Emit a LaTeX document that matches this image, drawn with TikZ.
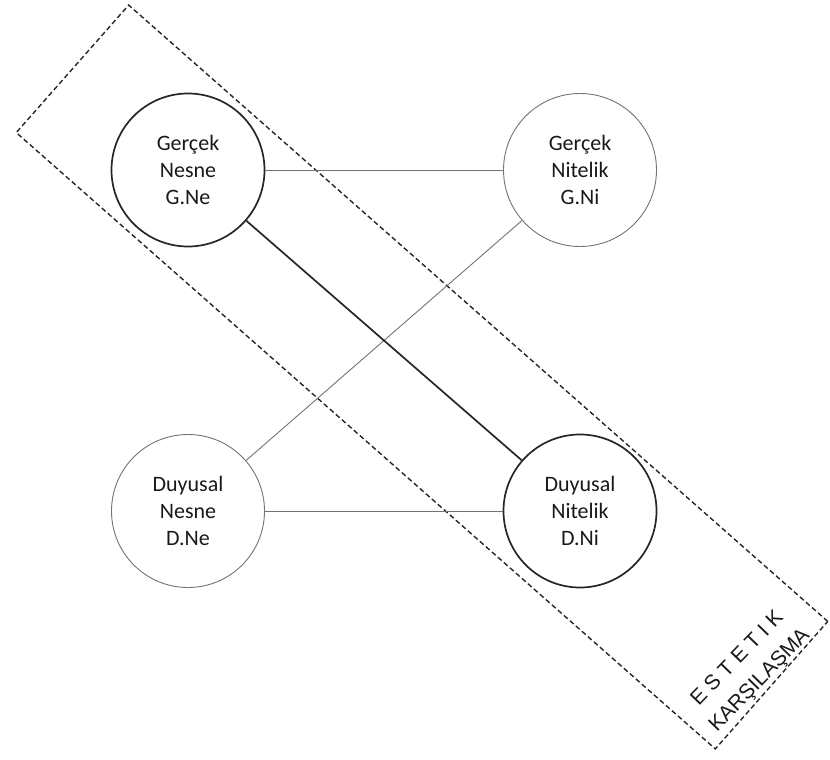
\documentclass[tikz,border=0pt]{standalone}
\usepackage{fontspec}
\setmainfont{Carlito}
\newfontfamily\labelfont{Liberation Sans}
\begin{document}
\begin{tikzpicture}[x=1pt,y=-1pt,
  thincirc/.style={circle, draw=black!55, line width=0.9pt, minimum size=153pt, inner sep=0pt, align=center, font=\fontsize{22}{27}\selectfont, text=black!90},
  thickcirc/.style={thincirc, draw=black!85, line width=1.7pt},
  thinline/.style={draw=black!55, line width=0.9pt},
  thickline/.style={draw=black!85, line width=1.7pt},
  zone/.style={draw=black!85, line width=1.4pt, dash pattern=on 5pt off 3pt, minimum width=932pt, minimum height=170pt, inner sep=0pt}]
\useasboundingbox (0,0) rectangle (830,760);
\node[zone, rotate=-41.4] (zone) at (422,377) {};
\node[thickcirc] (gne) at (188,170) {Gerçek\\Nesne\\G.Ne};
\node[thincirc] (gni) at (580,170) {Gerçek\\Nitelik\\G.Ni};
\node[thincirc] (dne) at (188,511) {Duyusal\\Nesne\\D.Ne};
\node[thickcirc] (dni) at (580,511) {Duyusal\\Nitelik\\D.Ni};
\draw[thinline] (gne) -- (gni);
\draw[thinline] (dne) -- (dni);
\draw[thinline] (dne) -- (gni);
\draw[thickline] (gne) -- (dni);
\node[rotate=46, align=center, font=\labelfont\fontsize{21}{31}\selectfont, text=black!90] (label) at (749,670) {E S T E T I K\\KARŞILAŞMA};
\end{tikzpicture}
\end{document}
